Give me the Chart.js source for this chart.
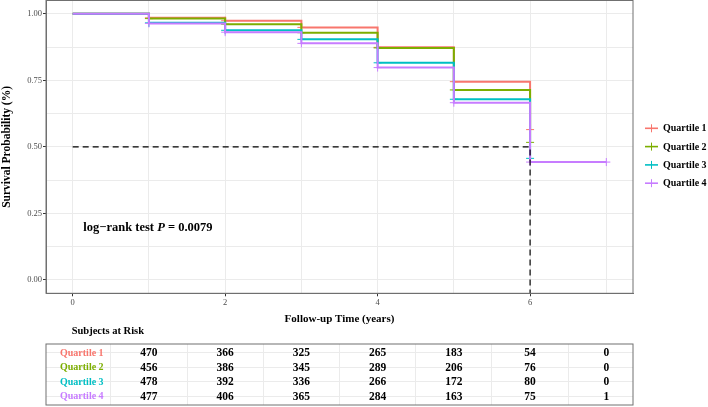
<!DOCTYPE html>
<html><head><meta charset="utf-8">
<script src="https://cdn.jsdelivr.net/npm/chart.js@4"></script>
<style>
html,body{margin:0;padding:0;background:#fff;}
#wrap{position:relative;width:708px;height:407px;overflow:hidden;background:#fff;}
#main{position:absolute;left:0;top:0;}
#risk{position:absolute;left:0;top:315px;}
</style></head><body>
<div id="wrap">
<canvas id="main" width="708" height="330"></canvas>
<canvas id="risk" width="708" height="92"></canvas>
</div>
<script>
// ---------- data ----------
const groups = ['Quartile 1','Quartile 2','Quartile 3','Quartile 4'];
const colors = ['#F8766D','#7CAE00','#00BFC4','#C77CFF'];
const timesQ1 = [0,1,2,3,4,5,6];
const survQ1  = [1,0.985,0.974,0.949,0.874,0.745,0.565];
const timesQ2 = [0,1,2,3,4,5,6];
const survQ2  = [1,0.982,0.961,0.929,0.872,0.714,0.517];
const timesQ3 = [0,1,2,3,4,5,6];
const survQ3  = [1,0.966,0.938,0.904,0.816,0.679,0.457];
const timesQ4 = [0,1,2,3,4,5,6,7];
const survQ4  = [1,0.964,0.931,0.889,0.798,0.666,0.443,0.443];
const medianTime = 6;
const medianSurv = 0.5;
const xTickVals   = [0,1,2,3,4,5,6,7];
const xTickLabels = ['0','','2','','4','','6',''];
const yTickVals   = [0,0.125,0.25,0.375,0.5,0.625,0.75,0.875,1];
const yTickLabels = ['0.00','','0.25','','0.50','','0.75','','1.00'];
const riskTimes = [1,2,3,4,5,6,7];
const riskQ1 = [470,366,325,265,183,54,0];
const riskQ2 = [456,386,345,289,206,76,0];
const riskQ3 = [478,392,336,266,172,80,0];
const riskQ4 = [477,406,365,284,163,75,1];
const riskGrid = [0.5,1.5,2.5,3.5,4.5,5.5,6.5];
const pValueLabel = '0.0079';

// ---------- setup ----------
const SERIF = "'Liberation Serif','Times New Roman',serif";
Chart.defaults.font.family = SERIF;
const X_MIN = -0.35, X_MAX = 7.35, Y_MIN = -0.05, Y_MAX = 1.05;
const BORDER = '#707070';
const GRID = '#ebebeb';

const km = [[timesQ1,survQ1],[timesQ2,survQ2],[timesQ3,survQ3],[timesQ4,survQ4]];
const kmSets = km.map(([t,s],i)=>({
  label: groups[i],
  data: t.map((x,j)=>({x:x, y:s[j]})),
  borderColor: colors[i], backgroundColor: colors[i],
  borderWidth: 2, stepped: true, fill: false,
  pointStyle: 'cross',
  pointRadius: c => c.dataIndex === 0 ? 0 : 4,
  pointBorderWidth: 1, pointBorderColor: colors[i],
  order: 4 - i
}));
const medianSet = {
  label: 'median',
  data: [{x:0,y:medianSurv},{x:medianTime,y:medianSurv},{x:medianTime,y:Y_MIN}],
  borderColor: '#000', borderWidth: 1.2, borderDash: [6,4],
  pointRadius: 0, fill: false, order: 0
};

const mainPlugin = {
  id: 'mainDecor',
  afterDraw(chart) {
    const {ctx, chartArea: a, scales} = chart;
    ctx.save();
    ctx.strokeStyle = BORDER; ctx.lineWidth = 1;
    ctx.strokeRect(a.left, a.top, a.right - a.left, a.bottom - a.top);
    // legend
    const lx0 = 645, lx1 = 658, tx = 663, ly0 = 128.3, step = 18.3;
    ctx.font = "bold 10px " + SERIF;
    ctx.textBaseline = 'middle'; ctx.textAlign = 'left';
    groups.forEach((g,i)=>{
      const y = ly0 + i*step;
      ctx.strokeStyle = colors[i]; ctx.lineWidth = 1.6;
      ctx.beginPath(); ctx.moveTo(lx0,y); ctx.lineTo(lx1,y); ctx.stroke();
      ctx.lineWidth = 1;
      ctx.beginPath(); ctx.moveTo((lx0+lx1)/2,y-4); ctx.lineTo((lx0+lx1)/2,y+4); ctx.stroke();
      ctx.fillStyle = '#000';
      ctx.fillText(g, tx, y+0.5);
    });
    // p-value text
    let px = scales.x.getPixelForValue(0.14);
    const py = scales.y.getPixelForValue(0.197);
    const parts = [['log\u2212rank test ','bold'],['P','italic bold'],[' = ' + pValueLabel,'bold']];
    parts.forEach(([t,st])=>{
      ctx.font = st + " 12.5px " + SERIF;
      ctx.fillText(t, px, py);
      px += ctx.measureText(t).width;
    });
    ctx.restore();
  }
};

new Chart(document.getElementById('main'), {
  type: 'line',
  data: { datasets: [...kmSets, medianSet] },
  options: {
    responsive: false, animation: false,
    layout: { autoPadding: false, padding: { left: 0, right: 75, top: 0.5, bottom: 0 } },
    plugins: { legend: { display: false }, tooltip: { enabled: false } },
    scales: {
      x: {
        type: 'linear', min: X_MIN, max: X_MAX,
        afterBuildTicks: s => { s.ticks = xTickVals.map(v=>({value:v})); },
        afterFit: s => { s.height = 36.7; s.paddingLeft = 0; s.paddingRight = 0; },
        ticks: { callback: (v,i) => xTickLabels[i], color: '#4d4d4d', font: { size: 8.5 }, padding: 1.5, maxRotation: 0, autoSkip: false },
        grid: { color: GRID, lineWidth: 1, tickLength: 3,
                tickColor: c => (c.tick && xTickLabels[c.index] !== '') ? '#333' : 'rgba(0,0,0,0)' },
        border: { color: BORDER },
        title: { display: true, text: 'Follow-up Time (years)', color: '#000',
                 font: { size: 11, weight: 'bold' }, padding: { top: 0, bottom: 4.4 } }
      },
      y: {
        min: Y_MIN, max: Y_MAX,
        afterBuildTicks: s => { s.ticks = yTickVals.map(v=>({value:v})); },
        afterFit: s => { s.width = 46; s.paddingTop = 0; s.paddingBottom = 0; },
        ticks: { callback: (v,i) => yTickLabels[i], color: '#4d4d4d', font: { size: 8.5 }, padding: 1, autoSkip: false },
        grid: { color: GRID, lineWidth: 1, tickLength: 3,
                tickColor: c => (c.tick && yTickLabels[c.index] !== '') ? '#333' : 'rgba(0,0,0,0)' },
        border: { color: BORDER },
        title: { display: true, text: 'Survival Probability (%)', color: '#000',
                 font: { size: 11.5, weight: 'bold' }, padding: { top: 0, bottom: 0 } }
      }
    }
  },
  plugins: [mainPlugin]
});

// ---------- risk table ----------
const riskRows = [riskQ1, riskQ2, riskQ3, riskQ4];
const riskSets = riskRows.map((r,i)=>({
  label: groups[i],
  data: riskTimes.map((t,j)=>({x:t, y:i+1})),
  pointRadius: 0, showLine: false
}));
const riskPlugin = {
  id: 'riskDecor',
  afterDraw(chart) {
    const {ctx, chartArea: a, scales} = chart;
    ctx.save();
    ctx.strokeStyle = BORDER; ctx.lineWidth = 1;
    ctx.strokeRect(a.left, a.top, a.right - a.left, a.bottom - a.top);
    ctx.textBaseline = 'middle';
    ctx.font = "bold 10.5px " + SERIF; ctx.fillStyle = '#000'; ctx.textAlign = 'left';
    ctx.fillText('Subjects at Risk', scales.x.getPixelForValue(0) - 1, 16.7);
    riskRows.forEach((row,i)=>{
      const meta = chart.getDatasetMeta(i);
      const y = scales.y.getPixelForValue(i+1);
      ctx.font = "bold 10px " + SERIF; ctx.fillStyle = colors[i]; ctx.textAlign = 'left';
      ctx.fillText(groups[i], a.left + 14, y + 0.5);
      ctx.font = "bold 11.5px " + SERIF; ctx.fillStyle = '#000'; ctx.textAlign = 'center';
      meta.data.forEach((pt,j)=>{ ctx.fillText(String(row[j]), pt.x, pt.y + 0.5); });
    });
    ctx.restore();
  }
};
new Chart(document.getElementById('risk'), {
  type: 'scatter',
  data: { datasets: riskSets },
  options: {
    responsive: false, animation: false,
    layout: { autoPadding: false, padding: { left: 46, right: 75, top: 29, bottom: 2 } },
    plugins: { legend: { display: false }, tooltip: { enabled: false } },
    scales: {
      x: {
        type: 'linear', min: X_MIN, max: X_MAX,
        afterBuildTicks: s => { s.ticks = riskGrid.map(v=>({value:v})); },
        afterFit: s => { s.height = 0; s.paddingLeft = 0; s.paddingRight = 0; },
        ticks: { display: false },
        grid: { color: GRID, drawTicks: false },
        border: { display: false }
      },
      y: {
        min: 0.4, max: 4.6, reverse: true,
        afterBuildTicks: s => { s.ticks = [1,2,3,4].map(v=>({value:v})); },
        afterFit: s => { s.width = 0; s.paddingTop = 0; s.paddingBottom = 0; },
        ticks: { display: false },
        grid: { color: GRID, drawTicks: false },
        border: { display: false }
      }
    }
  },
  plugins: [riskPlugin]
});
</script>
</body></html>
